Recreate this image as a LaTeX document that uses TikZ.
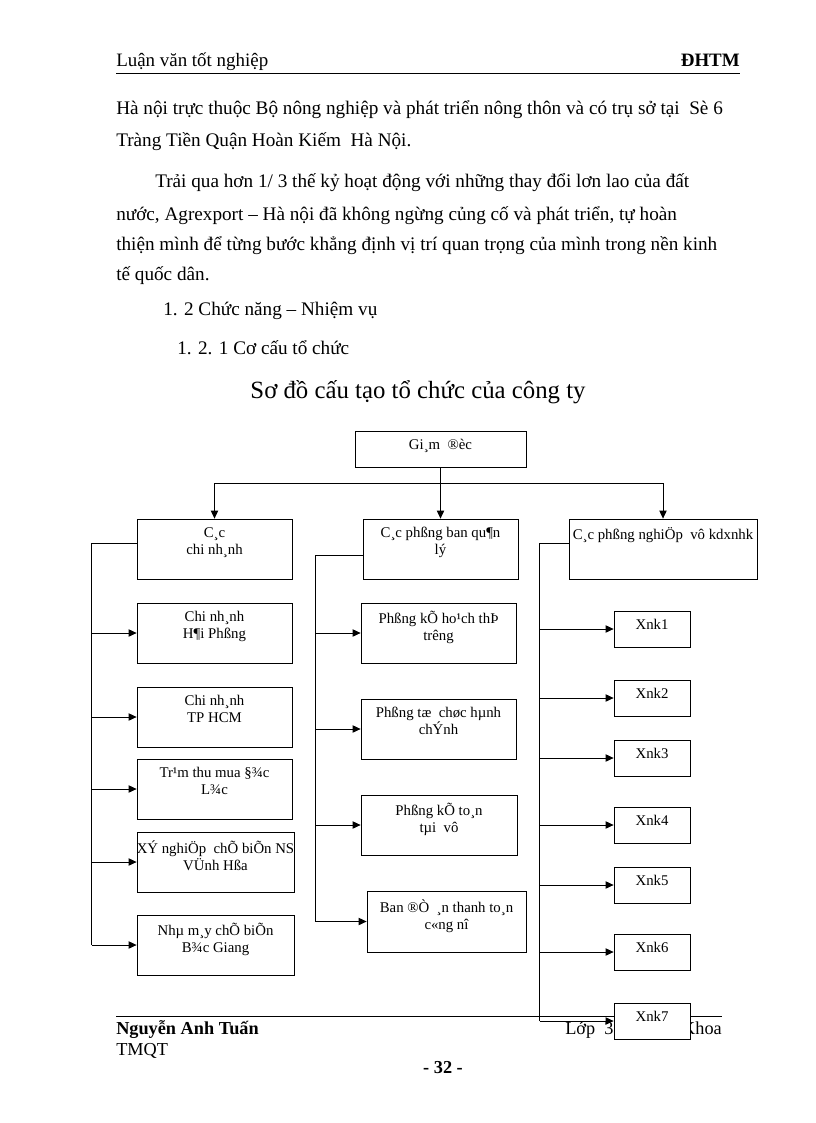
\documentclass[tikz,border=0pt]{standalone}
\usepackage{fontspec}
\setmainfont{Liberation Serif}
\usetikzlibrary{arrows.meta}
\tikzset{
  box/.style={draw, line width=0.6pt, fill=white, inner sep=0pt},
  intext/.style={anchor=north, align=center, inner sep=0pt, yshift=-6.5pt, font=\fontsize{11.1}{12.75}\selectfont},
  line/.style={line width=0.6pt},
  arrow/.style={line width=0.6pt, -{Triangle[length=6pt,width=5.5pt]}},
  body/.style={anchor=base west, inner sep=0pt, font=\fontsize{14.4}{17}\selectfont}
}

\begin{document}
\begin{tikzpicture}[x=0.75pt, y=-0.75pt]
    \useasboundingbox[fill=white] (0,0) rectangle (816,1123);

    % Header
    \node[body, font=\fontsize{14.2}{17}\selectfont] (hdl) at (116,67) {Luận văn tốt nghiệp};
    \node[body, anchor=base east, font=\fontsize{14.2}{17}\selectfont\bfseries] (hdr) at (740,67) {ĐHTM};
    \draw[line width=0.5pt] (116,73) -- (740,73);

    % Body text
    \node[body] (l1) at (116,115) {Hà nội trực thuộc Bộ nông nghiệp và phát triển nông thôn và có trụ sở tại\ \ Sè 6};
    \node[body] (l2) at (116,147) {Tràng Tiền Quận Hoàn Kiếm\ \ Hà Nội.};
    \node[body] (l3) at (155,188) {Trải qua hơn 1/ 3 thế kỷ hoạt động với những thay đổi lơn lao của đất};
    \node[body] (l4) at (116,220) {nước, Agrexport – Hà nội đã không ngừng củng cố và phát triển, tự hoàn};
    \node[body] (l5) at (116,250) {thiện mình để từng bước khẳng định vị trí quan trọng của mình trong nền kinh};
    \node[body] (l6) at (116,280) {tế quốc dân.};
    \node[body] (l7) at (163,315) {1. 2 Chức năng – Nhiệm vụ};
    \node[body] (l8) at (177,354) {1. 2. 1 Cơ cấu tổ chức};

    % Title
    \node[anchor=base, inner sep=0pt, font=\fontsize{18.6}{22}\selectfont] (title) at (418,398) {Sơ đồ cấu tạo tổ chức của công ty};

    % Footer
    \draw[line width=0.5pt] (116,1016) -- (722,1016);
    \node[body, font=\fontsize{13.7}{16}\selectfont\bfseries] (fname) at (116,1034) {Nguyễn Anh Tuấn};
    \node[body, font=\fontsize{13.7}{16}\selectfont] (fclass) at (116,1055) {TMQT};
    \node[body, font=\fontsize{13.7}{16}\selectfont] (flop) at (565,1034) {Lớp\ \ 3};
    \node[body, anchor=base east, font=\fontsize{13.7}{16}\selectfont] (fkhoa) at (722,1034) {Khoa};
    \node[anchor=base, inner sep=0pt, font=\fontsize{13.7}{16}\selectfont\bfseries] (fpage) at (443,1073) {- 32 -};

    % Director
    \node[box, minimum width=171*0.75pt, minimum height=36*0.75pt, label={[intext]north:Gi¸m\ \ ®èc}] (gd) at (440.5,449) {};

    % Column 1: branches
    \node[box, minimum width=155*0.75pt, minimum height=60*0.75pt, label={[intext]north:{C¸c\\chi nh¸nh}}] (cn1) at (214.5,549) {};
    \node[box, minimum width=155*0.75pt, minimum height=60*0.75pt, label={[intext]north:{Chi nh¸nh\\H¶i Phßng}}] (cn2) at (214.5,633) {};
    \node[box, minimum width=155*0.75pt, minimum height=60*0.75pt, label={[intext]north:{Chi nh¸nh\\TP HCM}}] (cn3) at (214.5,717) {};
    \node[box, minimum width=155*0.75pt, minimum height=60*0.75pt, label={[intext]north:{Tr¹m thu mua §¾c\\L¾c}}] (cn4) at (214.5,789) {};
    \node[box, minimum width=157*0.75pt, minimum height=60*0.75pt, label={[intext]north:{XÝ nghiÖp\ \ chÕ biÕn NS\\VÜnh Hßa}}] (cn5) at (215.5,862) {};
    \node[box, minimum width=157*0.75pt, minimum height=60*0.75pt, label={[intext]north:{Nhµ m¸y chÕ biÕn\\B¾c Giang}}] (cn6) at (215.5,945) {};

    % Column 2: management departments
    \node[box, minimum width=155*0.75pt, minimum height=60*0.75pt, label={[intext]north:{C¸c phßng ban qu¶n\\lý}}] (pb1) at (440.5,549) {};
    \node[box, minimum width=155*0.75pt, minimum height=60*0.75pt, label={[intext]north:{Phßng kÕ ho¹ch thÞ\\trêng}}] (pb2) at (438.5,633) {};
    \node[box, minimum width=155*0.75pt, minimum height=60*0.75pt, label={[intext]north:{Phßng tæ\ \ chøc hµnh\\chÝnh}}] (pb3) at (438.5,729) {};
    \node[box, minimum width=156*0.75pt, minimum height=60*0.75pt, label={[intext]north:{Phßng kÕ to¸n\\tµi\ \ vô}}] (pb4) at (439,825) {};
    \node[box, minimum width=159*0.75pt, minimum height=61*0.75pt, label={[intext]north:{Ban ®Ò\ \ ¸n thanh to¸n\\c«ng nî}}] (pb5) at (446.5,921.5) {};

    % Column 3: business departments
    \node[box, minimum width=188*0.75pt, minimum height=60*0.75pt, label={[intext]north:{C¸c phßng nghiÖp\ \ vô kdxnhk}}] (nv) at (663,549) {};
    \node[box, minimum width=76*0.75pt, minimum height=36*0.75pt, label={[intext]north:Xnk1}] (xnk1) at (652,629) {};
    \node[box, minimum width=76*0.75pt, minimum height=36*0.75pt, label={[intext]north:Xnk2}] (xnk2) at (652,698) {};
    \node[box, minimum width=76*0.75pt, minimum height=36*0.75pt, label={[intext]north:Xnk3}] (xnk3) at (652,758) {};
    \node[box, minimum width=76*0.75pt, minimum height=36*0.75pt, label={[intext]north:Xnk4}] (xnk4) at (652,825) {};
    \node[box, minimum width=76*0.75pt, minimum height=36*0.75pt, label={[intext]north:Xnk5}] (xnk5) at (652,885) {};
    \node[box, minimum width=76*0.75pt, minimum height=36*0.75pt, label={[intext]north:Xnk6}] (xnk6) at (652,952) {};
    \node[box, minimum width=76*0.75pt, minimum height=36*0.75pt, label={[intext]north:Xnk7}] (xnk7) at (652,1021) {};

    % Director to columns
    \coordinate (jn) at (440.5,483);
    \draw[line] (gd.south) -- (jn);
    \draw[arrow] (jn) -| (cn1.north);
    \draw[arrow] (jn) -- (pb1.north);
    \draw[arrow] (jn) -| (nv.north);

    % Column buses
    \draw[line] ([yshift=4.5pt]cn1.west) -- ++(-45,0) coordinate (b1);
    \draw[line] (b1) -- (b1 |- cn6.west);
    \foreach \n in {cn2,cn3,cn4,cn5,cn6}
        \draw[arrow] (b1 |- \n.west) -- (\n.west);

    \draw[line] ([yshift=-4.5pt]pb1.west) -- ++(-47,0) coordinate (b2);
    \draw[line] (b2) -- (b2 |- pb5.west);
    \foreach \n in {pb2,pb3,pb4,pb5}
        \draw[arrow] (b2 |- \n.west) -- (\n.west);

    \draw[line] ([yshift=4.5pt]nv.west) -- ++(-29,0) coordinate (b3);
    \draw[line] (b3) -- (b3 |- xnk7.west);
    \foreach \n in {xnk1,xnk2,xnk3,xnk4,xnk5,xnk6,xnk7}
        \draw[arrow] (b3 |- \n.west) -- (\n.west);
\end{tikzpicture}
\end{document}
